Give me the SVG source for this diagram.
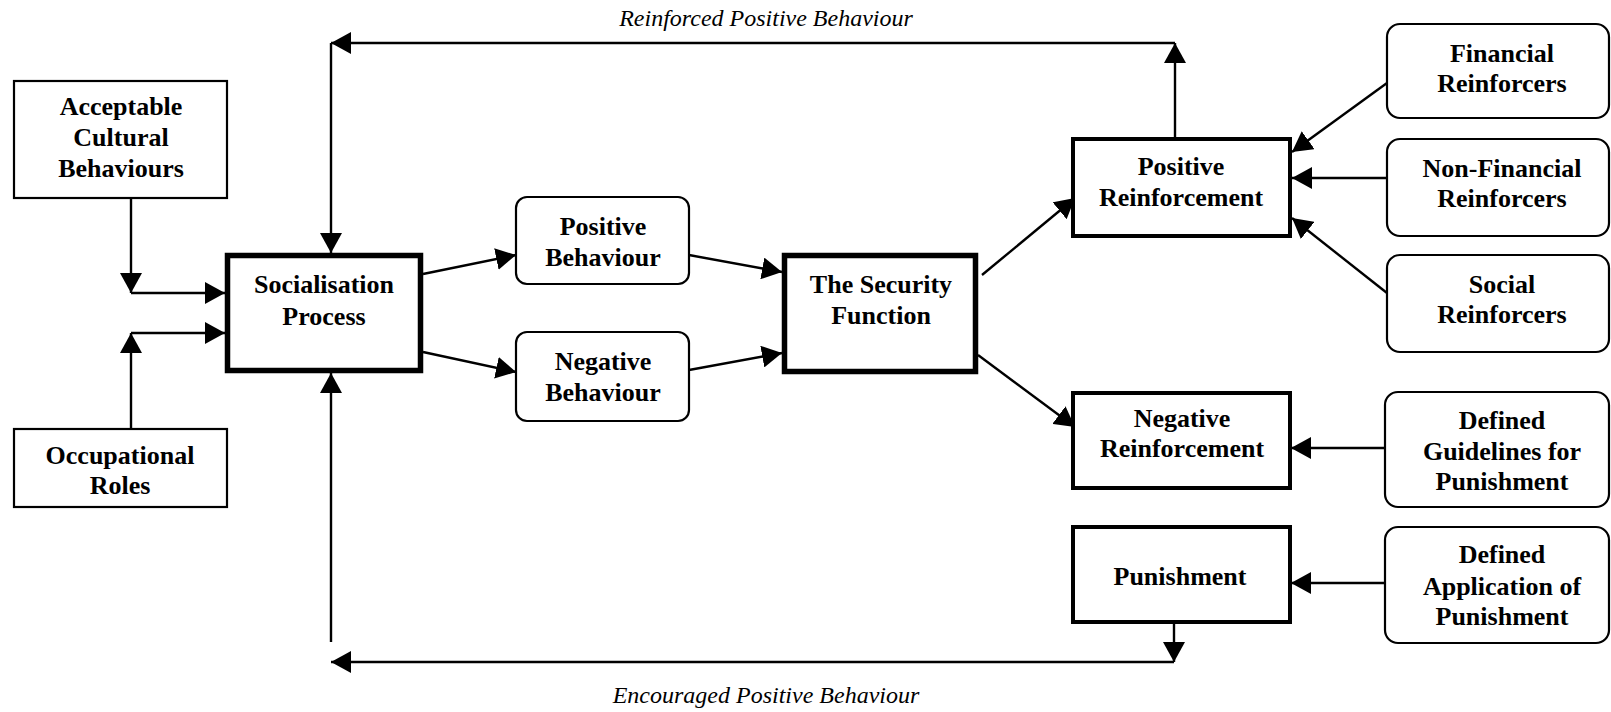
<svg xmlns="http://www.w3.org/2000/svg" width="1611" height="712" viewBox="0 0 1611 712">
  <style>
    .box { fill: #fff; stroke: #000; stroke-width: 2.2; }
    .mid { fill: #fff; stroke: #000; stroke-width: 4; }
    .thick { fill: #fff; stroke: #000; stroke-width: 5.5; }
    .lbl { font-family: "Liberation Serif", "Times New Roman", serif; font-weight: bold; font-size: 26px; text-anchor: middle; fill: #000; }
    .cap { font-family: "Liberation Serif", "Times New Roman", serif; font-style: italic; font-size: 24px; text-anchor: middle; fill: #000; }
    .edge { fill: none; stroke: #000; stroke-width: 2.4; }
  </style>
  <defs>
    <marker id="arrow" markerUnits="userSpaceOnUse" markerWidth="21" markerHeight="22" refX="20" refY="11" orient="auto" viewBox="0 0 21 22">
      <path d="M0,0 L20,11 L0,22 Z" fill="#000"/>
    </marker>
  </defs>
  <rect width="1611" height="712" fill="#fff"/>

  <!-- connectors -->
  <g id="connectors">
    <!-- feedback loop along the top -->
    <path class="edge" d="M1175,137 L1175,43" marker-end="url(#arrow)"/>
    <path class="edge" d="M1175,43 L331,43" marker-end="url(#arrow)"/>
    <path class="edge" d="M331,43 L331,253" marker-end="url(#arrow)"/>
    <!-- feedback loop along the bottom -->
    <path class="edge" d="M1174,623 L1174,662" marker-end="url(#arrow)"/>
    <path class="edge" d="M1174,662 L331,662" marker-end="url(#arrow)"/>
    <path class="edge" d="M331,642 L331,373" marker-end="url(#arrow)"/>
    <!-- inputs to socialisation -->
    <path class="edge" d="M131,198 L131,293" marker-end="url(#arrow)"/>
    <path class="edge" d="M131,293 L225,293" marker-end="url(#arrow)"/>
    <path class="edge" d="M131,429 L131,333" marker-end="url(#arrow)"/>
    <path class="edge" d="M131,333 L225,333" marker-end="url(#arrow)"/>
    <!-- behaviours -->
    <path class="edge" d="M423,274 L516,255" marker-end="url(#arrow)"/>
    <path class="edge" d="M423,352 L516,372" marker-end="url(#arrow)"/>
    <path class="edge" d="M689,255 L782,272" marker-end="url(#arrow)"/>
    <path class="edge" d="M689,370 L782,353" marker-end="url(#arrow)"/>
    <!-- security function outputs -->
    <path class="edge" d="M982,275 L1075,198" marker-end="url(#arrow)"/>
    <path class="edge" d="M978,355 L1075,427" marker-end="url(#arrow)"/>
    <!-- reinforcers -->
    <path class="edge" d="M1387,83 L1292,152" marker-end="url(#arrow)"/>
    <path class="edge" d="M1387,178 L1292,178" marker-end="url(#arrow)"/>
    <path class="edge" d="M1387,293 L1292,218" marker-end="url(#arrow)"/>
    <path class="edge" d="M1385,448 L1291,448" marker-end="url(#arrow)"/>
    <path class="edge" d="M1385,583 L1291,583" marker-end="url(#arrow)"/>
  </g>

  <text class="cap" x="766" y="26">Reinforced Positive Behaviour</text>
  <text class="cap" x="766" y="703">Encouraged Positive Behaviour</text>

  <g id="acceptable-cultural-behaviours">
    <rect class="box" x="14" y="81" width="213" height="117"/>
    <text class="lbl" x="121" y="115">Acceptable</text>
    <text class="lbl" x="121" y="146">Cultural</text>
    <text class="lbl" x="121" y="177">Behaviours</text>
  </g>
  <g id="occupational-roles">
    <rect class="box" x="14" y="429" width="213" height="78"/>
    <text class="lbl" x="120" y="464">Occupational</text>
    <text class="lbl" x="120" y="494">Roles</text>
  </g>
  <g id="socialisation-process">
    <rect class="thick" x="227.5" y="255.5" width="193" height="115"/>
    <text class="lbl" x="324" y="293">Socialisation</text>
    <text class="lbl" x="324" y="325">Process</text>
  </g>
  <g id="positive-behaviour">
    <rect class="box" x="516" y="197" width="173" height="87" rx="11"/>
    <text class="lbl" x="603" y="235">Positive</text>
    <text class="lbl" x="603" y="266">Behaviour</text>
  </g>
  <g id="negative-behaviour">
    <rect class="box" x="516" y="332" width="173" height="89" rx="11"/>
    <text class="lbl" x="603" y="370">Negative</text>
    <text class="lbl" x="603" y="401">Behaviour</text>
  </g>
  <g id="security-function">
    <rect class="thick" x="784.5" y="255.5" width="191" height="116"/>
    <text class="lbl" x="881" y="293">The Security</text>
    <text class="lbl" x="881" y="324">Function</text>
  </g>
  <g id="positive-reinforcement">
    <rect class="mid" x="1073" y="139" width="217" height="97"/>
    <text class="lbl" x="1181" y="175">Positive</text>
    <text class="lbl" x="1181" y="206">Reinforcement</text>
  </g>
  <g id="negative-reinforcement">
    <rect class="mid" x="1073" y="393" width="217" height="95"/>
    <text class="lbl" x="1182" y="427">Negative</text>
    <text class="lbl" x="1182" y="457">Reinforcement</text>
  </g>
  <g id="punishment">
    <rect class="mid" x="1073" y="527" width="217" height="95"/>
    <text class="lbl" x="1180" y="585">Punishment</text>
  </g>
  <g id="financial-reinforcers">
    <rect class="box" x="1387" y="24" width="222" height="94" rx="13"/>
    <text class="lbl" x="1502" y="62">Financial</text>
    <text class="lbl" x="1502" y="92">Reinforcers</text>
  </g>
  <g id="non-financial-reinforcers">
    <rect class="box" x="1387" y="139" width="222" height="97" rx="13"/>
    <text class="lbl" x="1502" y="177">Non-Financial</text>
    <text class="lbl" x="1502" y="207">Reinforcers</text>
  </g>
  <g id="social-reinforcers">
    <rect class="box" x="1387" y="255" width="222" height="97" rx="13"/>
    <text class="lbl" x="1502" y="293">Social</text>
    <text class="lbl" x="1502" y="323">Reinforcers</text>
  </g>
  <g id="defined-guidelines">
    <rect class="box" x="1385" y="392" width="224" height="115" rx="13"/>
    <text class="lbl" x="1502" y="429">Defined</text>
    <text class="lbl" x="1502" y="460">Guidelines for</text>
    <text class="lbl" x="1502" y="490">Punishment</text>
  </g>
  <g id="defined-application">
    <rect class="box" x="1385" y="527" width="224" height="116" rx="13"/>
    <text class="lbl" x="1502" y="563">Defined</text>
    <text class="lbl" x="1502" y="595">Application of</text>
    <text class="lbl" x="1502" y="625">Punishment</text>
  </g>
</svg>
